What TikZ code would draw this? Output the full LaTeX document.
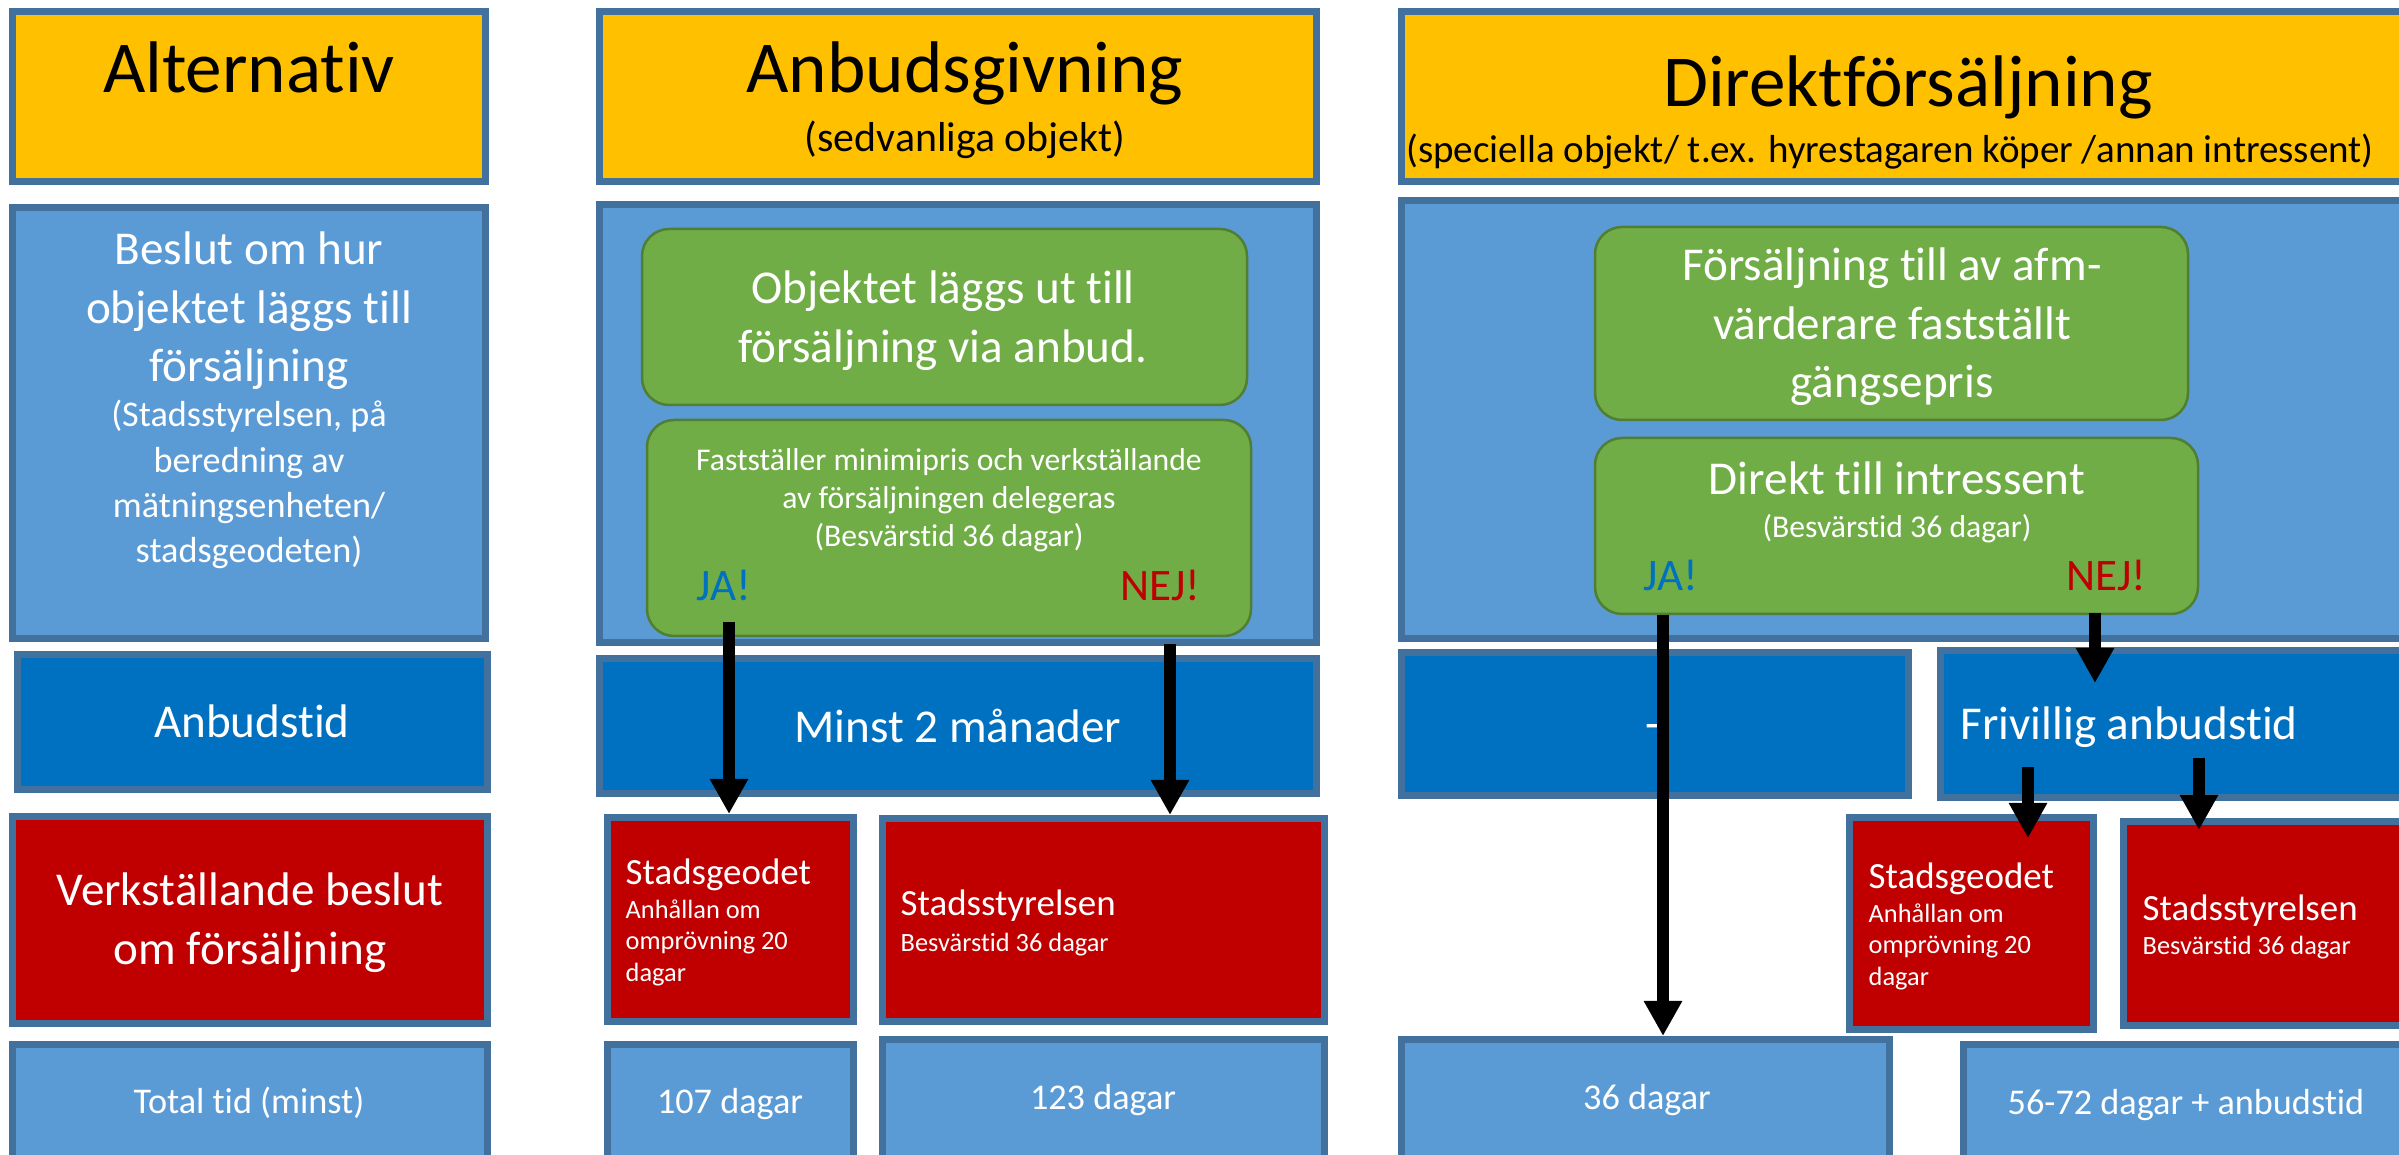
\documentclass[tikz,border=0pt]{standalone}
\usepackage{fontspec}
\setmainfont{Carlito}[Ligatures=NoCommon]
\usetikzlibrary{arrows.meta,fit}
\definecolor{cyel}{HTML}{FFC000}
\definecolor{clb}{HTML}{5B9BD5}
\definecolor{cdb}{HTML}{0070C0}
\definecolor{cred}{HTML}{C00000}
\definecolor{cgr}{HTML}{70AD47}
\definecolor{cgrb}{HTML}{507E32}
\definecolor{cbor}{HTML}{41719C}
\newcommand{\mlc}[1]{\begin{tabular}[t]{@{}c@{}}#1\end{tabular}}
\newcommand{\mll}[1]{\begin{tabular}[t]{@{}l@{}}#1\end{tabular}}
\begin{document}
\begin{tikzpicture}[x=0.01cm,y=-0.01cm,
  box/.style={draw=cbor,line width=0.07cm,inner sep=0pt,rectangle},
  gbox/.style={draw=cgrb,fill=cgr,line width=0.025cm,rounded corners=0.27cm,inner sep=0pt,rectangle},
  txt/.style={inner sep=0pt,text=white},
  ttl/.style={inner sep=0pt,text=black,font=\fontsize{20.8}{25}\selectfont},
  subt/.style={inner sep=0pt,text=black,font=\fontsize{11.9}{14}\selectfont},
  subd/.style={inner sep=0pt,text=black,font=\fontsize{11.1}{13}\selectfont},
  body/.style={txt,font=\fontsize{13.4}{16.5}\selectfont},
  besl/.style={txt,font=\fontsize{10.3}{12.8}\selectfont},
  small/.style={txt,font=\fontsize{9}{10.8}\selectfont},
  sgh/.style={txt,font=\fontsize{10.5}{12.5}\selectfont},
  sgs/.style={txt,font=\fontsize{7.5}{9}\selectfont},
  tot/.style={txt,font=\fontsize{10.3}{12.5}\selectfont},
  ja/.style={inner sep=0pt,text=cdb,font=\fontsize{12.8}{15}\selectfont},
  nej/.style={inner sep=0pt,text=cred,font=\fontsize{12.8}{15}\selectfont},
  arr/.style={line width=0.12cm,-{Triangle[width=0.36cm,length=0.35cm]}}
]
\useasboundingbox (0,0) rectangle (2399,1155);
\fill[white] (0,0) rectangle (2399,1155);
\clip (0,0) rectangle (2399,1155);

% column 1
\node[box,fill=cyel,fit={(12.5,11.5) (485.5,181.5)}] (alt) {};
\node[box,fill=clb,fit={(12.5,207.5) (485.5,638.5)}] (beslut) {};
\node[box,fill=cdb,fit={(17.5,654.5) (487.5,789.5)}] (abt) {};
\node[box,fill=cred,fit={(12.5,816.5) (487.5,1023.5)}] (verk) {};
\node[box,fill=clb,fit={(12.5,1044.5) (487.5,1180)}] (total) {};

% column 2
\node[box,fill=cyel,fit={(599.5,11.5) (1316.5,181.5)}] (anb) {};
\node[box,fill=clb,fit={(599.5,204.5) (1316.5,642.5)}] (anbbig) {};
\node[box,fill=cdb,fit={(599.5,658.5) (1316.5,793.5)}] (minst) {};
\node[box,fill=cred,fit={(607.5,817.5) (853.5,1021.5)}] (sg2) {};
\node[box,fill=cred,fit={(882.5,818.5) (1324.5,1021.5)}] (ss2) {};
\node[box,fill=clb,fit={(607.5,1044.5) (853.5,1180)}] (d107) {};
\node[box,fill=clb,fit={(882.5,1039.5) (1324.5,1180)}] (d123) {};
\node[gbox,fit={(642,229) (1247,405)}] (g1) {};
\node[gbox,fit={(647,420) (1251,636)}] (g2) {};

% column 3
\node[box,fill=cyel,fit={(1401.5,11.5) (2430,181.5)}] (dir) {};
\node[box,fill=clb,fit={(1401.5,200.5) (2430,638.5)}] (dirbig) {};
\node[box,fill=cdb,fit={(1401.5,652.5) (1908.5,795.5)}] (dash) {};
\node[box,fill=cdb,fit={(1940.5,650.5) (2430,797.5)}] (friv) {};
\node[box,fill=cred,fit={(1849.5,817.5) (2093.5,1029.5)}] (sg3) {};
\node[box,fill=cred,fit={(2123.5,821.5) (2430,1025.5)}] (ss3) {};
\node[box,fill=clb,fit={(1401.5,1039.5) (1889.5,1180)}] (d36) {};
\node[box,fill=clb,fit={(1963.5,1044.5) (2430,1180)}] (d5672) {};
\node[gbox,fit={(1595,227) (2188,420)}] (g3) {};
\node[gbox,fit={(1595,438) (2198,614)}] (g4) {};

% texts column 1
\node[ttl,anchor=base] (tAlt) at (249,93) {Alternativ};
\node[body,anchor=base] (tBes1) at (249,265) {\mlc{Beslut om hur\\objektet läggs till\\försäljning}};
\node[besl,anchor=base] (tBes2) at (249,427) {\mlc{(Stadsstyrelsen, på\\beredning av\\mätningsenheten/\\stadsgeodeten)}};
\node[body,anchor=base] (tAbt) at (252,738) {Anbudstid};
\node[body,anchor=base] (tVerk) at (250,906) {\mlc{Verkställande beslut\\om försäljning}};
\node[tot,anchor=base] (tTot) at (249,1113) {Total tid (minst)};

% texts column 2
\node[ttl,anchor=base] (tAnb) at (965,93) {Anbudsgivning};
\node[subt,anchor=base] (tAnbS) at (965,152) {(sedvanliga objekt)};
\node[body,anchor=base] (tG1) at (943,304) {\mlc{Objektet läggs ut till\\försäljning via anbud.}};
\node[small,anchor=base] (tG2) at (949,471) {\mlc{Fastställer minimipris och verkställande\\av försäljningen delegeras\\(Besvärstid 36 dagar)}};
\node[ja,anchor=base west] (ja2) at (696,601) {JA!};
\node[nej,anchor=base east] (nej2) at (1201,601) {NEJ!};
\node[body,anchor=base] (tMin) at (958,742) {Minst 2 månader};
\node[sgh,anchor=base west] (tSg2a) at (625,884) {Stadsgeodet};
\node[sgs,anchor=base west] (tSg2b) at (625,918) {\mll{Anhållan om\\omprövning 20\\dagar}};
\node[sgh,anchor=base west] (tSs2a) at (900,915) {Stadsstyrelsen};
\node[sgs,anchor=base west] (tSs2b) at (900,951) {Besvärstid 36 dagar};
\node[tot,anchor=base] (t107) at (730,1113) {107 dagar};
\node[tot,anchor=base] (t123) at (1103,1109) {123 dagar};

% texts column 3
\node[ttl,anchor=base] (tDir) at (1908,107) {Direktförsäljning};
\node[subd,anchor=base] (tDirS) at (1890,163) {(speciella objekt/ t.ex. hyrestagaren köper /annan intressent)};
\node[body,anchor=base] (tG3) at (1892,281) {\mlc{Försäljning till av afm-\\värderare fastställt\\gängsepris}};
\node[body,anchor=base] (tG4a) at (1897,495) {Direkt till intressent};
\node[small,anchor=base] (tG4b) at (1897,538) {(Besvärstid 36 dagar)};
\node[ja,anchor=base west] (ja3) at (1643,591) {JA!};
\node[nej,anchor=base east] (nej3) at (2147,591) {NEJ!};
\node[body,anchor=base] (tDash) at (1653,740) {-};
\node[body,anchor=base west] (tFriv) at (1960,739) {Frivillig anbudstid};
\node[sgh,anchor=base west] (tSg3a) at (1868,888) {Stadsgeodet};
\node[sgs,anchor=base west] (tSg3b) at (1868,922) {\mll{Anhållan om\\omprövning 20\\dagar}};
\node[sgh,anchor=base west] (tSs3a) at (2142,920) {Stadsstyrelsen};
\node[sgs,anchor=base west] (tSs3b) at (2142,954) {Besvärstid 36 dagar};
\node[tot,anchor=base] (t36) at (1647,1109) {36 dagar};
\node[tot,anchor=base] (t5672) at (2186,1114) {56-72 dagar + anbudstid};

% arrows
\coordinate (a1s) at (729,622);
\coordinate (a2s) at (1170,644);
\coordinate (a2e) at (1170,815);
\coordinate (a3s) at (1663,615);
\coordinate (a4s) at (2095,613);
\coordinate (a4e) at (2095,683);
\coordinate (a5s) at (2028,767);
\coordinate (a5e) at (2028,838);
\coordinate (a6s) at (2199,758);
\coordinate (a6e) at (2199,830);
\draw[arr] (a1s) -- (a1s |- sg2.north);
\draw[arr] (a2s) -- (a2e);
\draw[arr] (a3s) -- (a3s |- d36.north);
\draw[arr] (a4s) -- (a4e);
\draw[arr] (a5s) -- (a5e);
\draw[arr] (a6s) -- (a6e);
\end{tikzpicture}
\end{document}
